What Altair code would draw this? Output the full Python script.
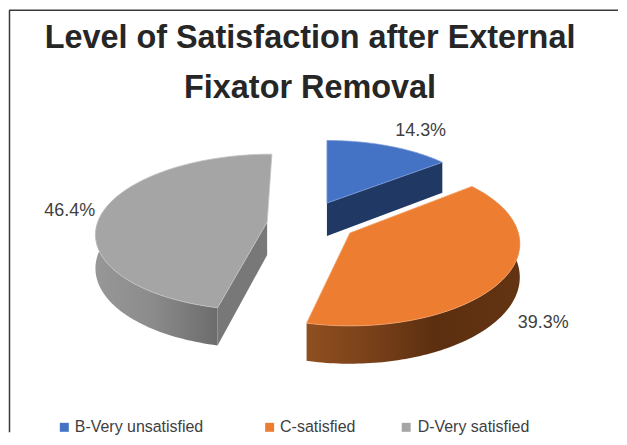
import math
import altair as alt
import numpy as np

# ---- chart values ----
categories = ["B-Very unsatisfied", "C-satisfied", "D-Very satisfied"]
shares = [14.3, 39.3, 46.4]
title_lines = ["Level of Satisfaction after External", "Fixator Removal"]

# ---- look ----
top_colors = ["#4472C4", "#ED7D31", "#A5A5A5"]
edge_colors = ["#7C9BD8", "#F2A26C", "#C4C4C4"]
cut_colors = ["#203864", None, "#787878"]
OFF = 8  # page margin
PERSP = 0.131
DEPTH = 33
# apex x, apex y, radius x, radius y, shear of each exploded slice
slices = [(327, 203, 160, 71, 0), (350, 233, 169, 81, 0), (267, 222, 170, 77, -0.07)]
label_pos = [(421, 131), (544, 323), (69, 211)]
legend_square_x = [63.5, 269.5, 406.5]
legend_text_x = [74, 280, 418]


def project(theta, s):
    ax, ay, rx, ry, shear = s
    u, v = math.sin(theta), -math.cos(theta)
    w = 1 / (1 - PERSP * v)
    dy = ry * v * w
    return ax + rx * u * w + shear * dy - OFF, ay + dy - OFF, w


def feature(points):
    pts = [[float(x), float(y)] for x, y in points]
    pts.append(pts[0])
    return {"type": "Feature", "properties": {},
            "geometry": {"type": "Polygon", "coordinates": [pts]}}


def shape(points, **kw):
    return alt.Chart(alt.Data(values=[feature(points)])).mark_geoshape(**kw).project(
        type="identity", scale=1, translate=[0, 0])


def gradient(stops):
    return alt.Gradient(gradient="linear", x1=0, x2=1, y1=0, y2=0,
                        stops=[alt.GradientStop(offset=o, color=c) for o, c in stops])


bounds = np.cumsum([0] + shares) / sum(shares) * 2 * math.pi
arcs = []
for i, s in enumerate(slices):
    th = np.linspace(bounds[i], bounds[i + 1], 120)
    arcs.append([project(t, s) for t in th])

layers = []
# blue slice: cut face then top
b = arcs[0]
ax, ay = slices[0][0] - OFF, slices[0][1] - OFF
layers.append(shape([(ax, ay), b[-1][:2], (b[-1][0], b[-1][1] + DEPTH * b[-1][2]), (ax, ay + DEPTH)],
                    fill=cut_colors[0], strokeWidth=0))
layers.append(shape([(ax, ay)] + [p[:2] for p in b], fill=top_colors[0], stroke=edge_colors[0], strokeWidth=0.8))

# grey slice: only the front part of the rim is ever seen
g = arcs[2]
front = g[: int(len(g) * 0.6)]
ax, ay = slices[2][0] - OFF, slices[2][1] - OFF
band = [p[:2] for p in front] + [(p[0], p[1] + DEPTH * p[2]) for p in reversed(front)]
layers.append(shape(band, strokeWidth=0,
                    fill=gradient([(0, "#979797"), (0.45, "#8C8C8C"), (1, "#6C6C6C")])))
layers.append(shape([(ax, ay), g[0][:2], (g[0][0], g[0][1] + DEPTH * g[0][2]), (ax, ay + DEPTH)],
                    fill=cut_colors[2], strokeWidth=0))
layers.append(shape([(ax, ay)] + [p[:2] for p in g], fill=top_colors[2], stroke=edge_colors[2], strokeWidth=0.8))

# orange slice
o = arcs[1]
ax, ay = slices[1][0] - OFF, slices[1][1] - OFF
band = [p[:2] for p in o] + [(p[0], p[1] + DEPTH * p[2]) for p in reversed(o)]
layers.append(shape(band, strokeWidth=0,
                    fill=gradient([(0, "#8F4F20"), (0.3, "#7A4119"), (0.6, "#5C2F10"), (1, "#633412")])))
layers.append(shape([(ax, ay)] + [p[:2] for p in o], fill=top_colors[1], stroke=edge_colors[1], strokeWidth=0.8))


def text(t, x, y, size, color="#404040", **kw):
    return alt.Chart(alt.Data(values=[{"t": t}])).mark_text(
        font="Liberation Sans", fontSize=size, color=color, baseline="middle", **kw
    ).encode(text="t:N", x=alt.value(x - OFF), y=alt.value(y - OFF))


# frame
layers.append(alt.Chart(alt.Data(values=[{"a": 0}])).mark_rule(color="#3A3A3A", strokeWidth=1.5).encode(
    x=alt.value(0.5), y=alt.value(1.5), y2=alt.value(425)))
layers.append(alt.Chart(alt.Data(values=[{"a": 0}])).mark_rule(color="#3A3A3A", strokeWidth=1.5).encode(
    y=alt.value(1.5), x=alt.value(0), x2=alt.value(611)))

# title
for line, ty in zip(title_lines, [37, 88]):
    layers.append(text(line, 310, ty, 32.5, color="#262626", fontWeight="bold", align="center"))

# value labels
for v, (lx, ly) in zip(shares, label_pos):
    layers.append(text(f"{v}%", lx, ly, 18, align="center"))

# legend
for name, col, sx, tx in zip(categories, top_colors, legend_square_x, legend_text_x):
    layers.append(alt.Chart(alt.Data(values=[{"a": 0}])).mark_square(color=col, size=81, opacity=1).encode(
        x=alt.value(sx - OFF), y=alt.value(428 - OFF)))
    layers.append(text(name, tx, 428, 16, align="left"))

chart = alt.layer(*layers).properties(
    width=611, height=425, padding=0, background="white"
).configure_view(stroke=None)

chart.save("out.html", embed_options={"renderer": "svg", "actions": False})
